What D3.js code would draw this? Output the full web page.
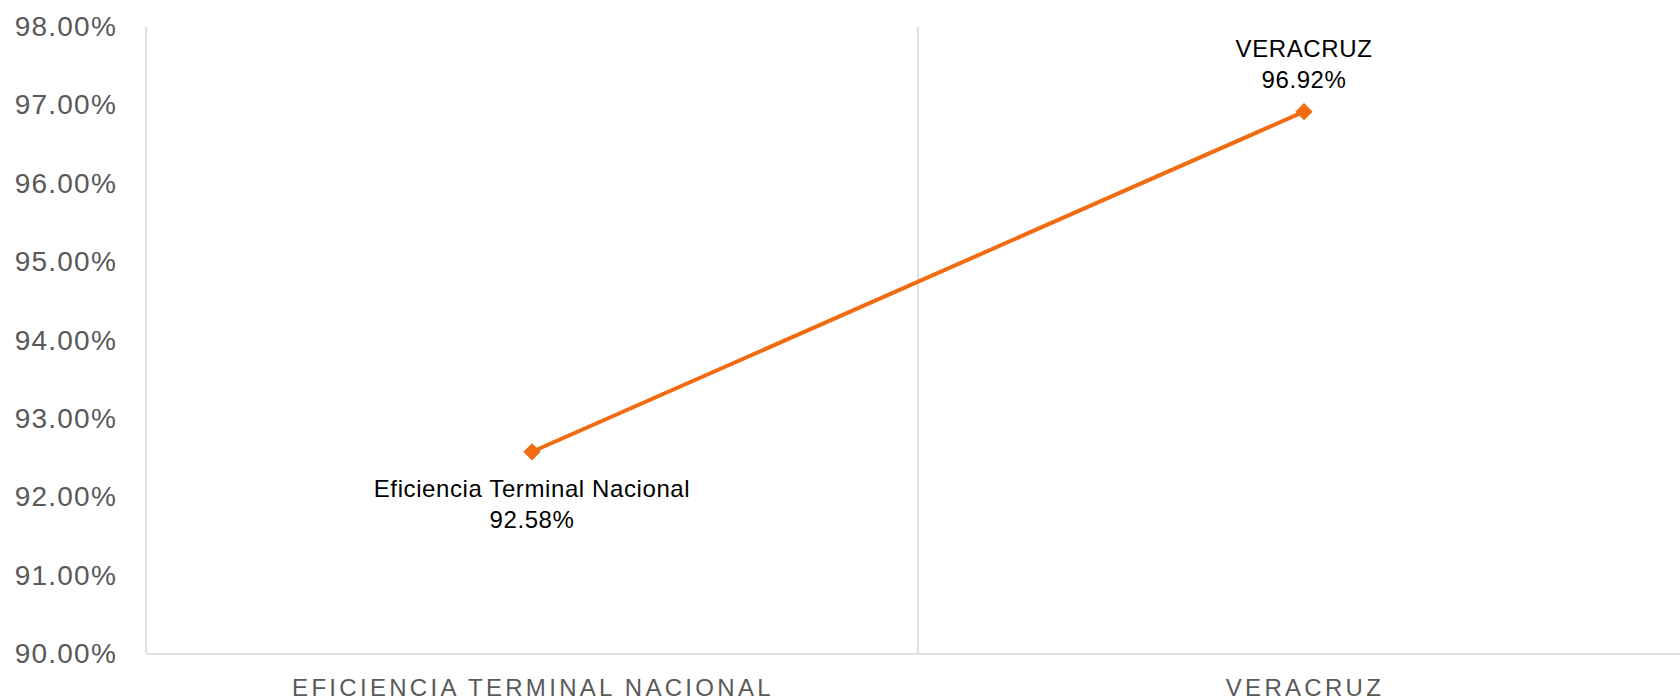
<!DOCTYPE html>
<html>
<head>
<meta charset="utf-8">
<script src="https://cdn.jsdelivr.net/npm/d3@7"></script>
<style>
  html, body { margin: 0; padding: 0; background: #fff; overflow: hidden; }
  svg { display: block; }
</style>
</head>
<body>
<svg id="chart" width="1680" height="700"></svg>
<script>
const categories = ["Eficiencia Terminal Nacional", "VERACRUZ"];
const axisLabels = ["EFICIENCIA TERMINAL NACIONAL", "VERACRUZ"];
const values = [92.58, 96.92];
const yTicks = [90, 91, 92, 93, 94, 95, 96, 97, 98];

(function () {
const svg = d3.select("#chart");
const mLeft = 146, mRight = 1690, mTop = 27, mBottom = 654;

const x = d3.scaleBand().domain(categories).range([mLeft, mRight]);
const y = d3.scaleLinear().domain([90, 98]).range([mBottom, mTop]);

const gridColor = "#d9d9d9";

// vertical category separators
const seps = categories.slice(1).map(c => x(c));
svg.selectAll("line.sep").data(seps).enter().append("line")
  .attr("x1", d => d).attr("x2", d => d)
  .attr("y1", mTop).attr("y2", mBottom)
  .attr("stroke", gridColor).attr("stroke-width", 1.5);

// left axis line
svg.append("line").attr("x1", mLeft).attr("x2", mLeft)
  .attr("y1", mTop).attr("y2", mBottom)
  .attr("stroke", gridColor).attr("stroke-width", 1.5);

// bottom axis line
svg.append("line").attr("x1", mLeft).attr("x2", mRight)
  .attr("y1", mBottom).attr("y2", mBottom)
  .attr("stroke", gridColor).attr("stroke-width", 1.5);

// y tick labels
svg.selectAll("text.ytick").data(yTicks).enter().append("text")
  .attr("x", 117).attr("y", d => y(d) + 9)
  .attr("text-anchor", "end")
  .attr("font-family", "'Liberation Sans', Arial, sans-serif")
  .attr("font-size", 28).attr("letter-spacing", 1.2)
  .attr("fill", "#595959")
  .text(d => d.toFixed(2) + "%");

// x category labels
svg.selectAll("text.xlab").data(categories).enter().append("text")
  .attr("x", d => x(d) + x.bandwidth() / 2 + 1)
  .attr("y", 696)
  .attr("text-anchor", "middle")
  .attr("font-family", "'Liberation Sans', Arial, sans-serif")
  .attr("font-size", 24).attr("letter-spacing", 3.3)
  .attr("fill", "#595959")
  .text((d, i) => axisLabels[i]);

// line
const pts = categories.map((c, i) => [x(c) + x.bandwidth() / 2, y(values[i])]);
svg.append("path")
  .attr("d", d3.line()(pts))
  .attr("fill", "none").attr("stroke", "#F26B11").attr("stroke-width", 4);

// markers
svg.selectAll("path.mk").data(pts).enter().append("path")
  .attr("d", d3.symbol().type(d3.symbolSquare).size(150))
  .attr("transform", d => `translate(${d[0]},${d[1]}) rotate(45)`)
  .attr("fill", "#F26B11");

// data labels
const labelFont = "'Liberation Sans', Arial, sans-serif";
categories.forEach((c, i) => {
  const cx = x(c) + x.bandwidth() / 2;
  const cy = y(values[i]);
  const above = i === 1;
  const y1 = above ? cy - 55 : cy + 45;
  const g = svg.append("text")
    .attr("text-anchor", "middle")
    .attr("font-family", labelFont)
    .attr("font-size", 24)
    .attr("letter-spacing", 0.6)
    .attr("fill", "#000");
  g.append("tspan").attr("x", cx).attr("y", y1).text(c);
  g.append("tspan").attr("x", cx).attr("y", y1 + 31).text(values[i].toFixed(2) + "%");
});
})();
</script>
</body>
</html>
